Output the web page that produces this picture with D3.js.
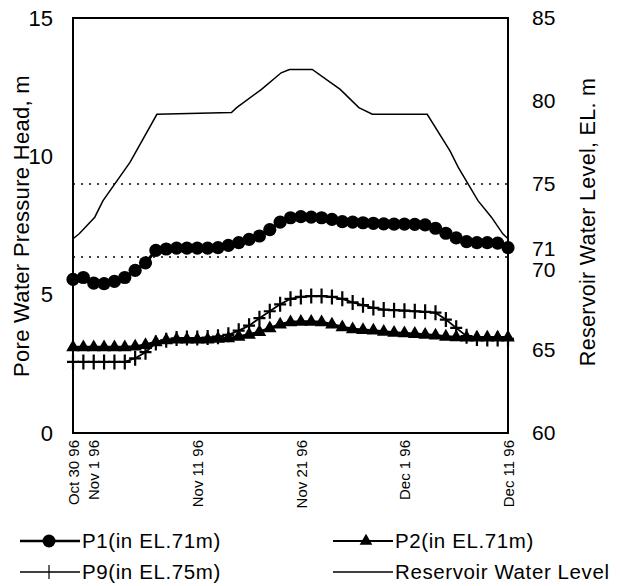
<!DOCTYPE html>
<html>
<head>
<meta charset="utf-8">
<script src="https://cdn.jsdelivr.net/npm/d3@7"></script>
<style>
  body { margin: 0; background: #fff; }
  svg { display: block; }
  text { font-family: "Liberation Sans", Arial, sans-serif; fill: #000; }
</style>
</head>
<body>
<svg id="chart"></svg>
<script>
// Readings, one per day from Oct 30 1996 (left axis, m)
const startDate = Date.UTC(1996, 9, 30);
const p1 = [5.55, 5.62, 5.42, 5.40, 5.48, 5.62, 5.88, 6.15, 6.60, 6.65, 6.68, 6.68, 6.68, 6.68, 6.70,
            6.78, 6.88, 7.00, 7.12, 7.35, 7.62, 7.78, 7.82, 7.80, 7.78, 7.72, 7.64, 7.62, 7.60, 7.58,
            7.56, 7.55, 7.55, 7.54, 7.52, 7.40, 7.22, 7.05, 6.92, 6.88, 6.88, 6.86, 6.70];
const p2 = [3.10, 3.10, 3.10, 3.10, 3.10, 3.10, 3.12, 3.18, 3.28, 3.35, 3.38, 3.38, 3.38, 3.38, 3.40,
            3.42, 3.48, 3.55, 3.65, 3.78, 3.92, 4.00, 4.02, 4.02, 4.00, 3.92, 3.82, 3.75, 3.72, 3.70,
            3.66, 3.62, 3.60, 3.58, 3.55, 3.52, 3.48, 3.46, 3.45, 3.45, 3.45, 3.45, 3.45];
const p9 = [2.57, 2.57, 2.57, 2.57, 2.57, 2.57, 2.70, 2.92, 3.25, 3.35, 3.42, 3.43, 3.43, 3.45, 3.48,
            3.55, 3.70, 3.88, 4.15, 4.40, 4.65, 4.85, 4.92, 4.95, 4.95, 4.92, 4.85, 4.72, 4.62, 4.52,
            4.46, 4.44, 4.42, 4.40, 4.38, 4.35, 4.10, 3.80, 3.50, 3.42, 3.40, 3.40, 3.40];

// Reservoir water level (right axis, EL. m), at day offsets from Oct 30
const resDay   = [0, 0.6, 2.1, 2.9, 5.5, 8.1, 15.3, 15.8, 18.2, 20.1, 20.9, 23.1, 25.8, 27.6, 28.9, 34.2, 36.4, 37.2, 39.1, 40.4, 41.5, 42];
const resLevel = [71.7, 72.0, 73.0, 74.0, 76.3, 79.2, 79.3, 79.6, 80.7, 81.7, 81.9, 81.9, 80.7, 79.6, 79.2, 79.2, 77.0, 76.0, 74.0, 73.0, 72.0, 71.7];

// Dotted reference levels (right axis)
const refLevels = [75, 70.6];

// Axes
const leftTicks = [0, 5, 10, 15];
const rightTicks = [60, 65, 70, 71, 75, 80, 85];
const tickDays = [0, 2, 12, 22, 32, 42];
const tickLabels = ["Oct 30 96", "Nov 1 96", "Nov 11 96", "Nov 21 96", "Dec 1 96", "Dec 11 96"];

const seriesNames = ["P1(in EL.71m)", "P2(in EL.71m)", "P9(in EL.75m)", "Reservoir Water Level"];

const width = 621, height = 586;
const margin = { left: 73, right: 113, top: 18, bottom: 153 };
const DAY = 86400000;
const dayToDate = d => new Date(startDate + d * DAY);

const svg = d3.select("#chart").attr("width", width).attr("height", height);

const x = d3.scaleUtc()
  .domain([dayToDate(0), dayToDate(42)])
  .range([margin.left, width - margin.right]);
const yL = d3.scaleLinear().domain([0, 15]).range([height - margin.bottom, margin.top]);
const yR = d3.scaleLinear().domain([60, 85]).range([height - margin.bottom, margin.top]);

const x0 = margin.left, x1 = width - margin.right;
const yTop = margin.top, yBot = height - margin.bottom;

// dotted reference lines
svg.selectAll(".ref").data(refLevels).join("line")
  .attr("x1", x0).attr("x2", x1)
  .attr("y1", d => yR(d)).attr("y2", d => yR(d))
  .attr("stroke", "#000").attr("stroke-width", 1.6)
  .attr("stroke-dasharray", "2,6");

// reservoir line
const resLine = d3.line().x((d, i) => x(dayToDate(resDay[i]))).y(d => yR(d));
svg.append("path").datum(resLevel)
  .attr("d", resLine).attr("fill", "none")
  .attr("stroke", "#000").attr("stroke-width", 1.5);

const line = d3.line().x((d, i) => x(dayToDate(i))).y(d => yL(d));

// P9 : plus markers
svg.append("path").datum(p9).attr("d", line)
  .attr("fill", "none").attr("stroke", "#000").attr("stroke-width", 1.8);
svg.append("g").selectAll("path").data(p9).join("path")
  .attr("transform", (d, i) => `translate(${x(dayToDate(i))},${yL(d)})`)
  .attr("d", "M0,-7.5V7.5M-6,0H6")
  .attr("stroke", "#000").attr("stroke-width", 2.2);

// P2 : triangle markers
svg.append("path").datum(p2).attr("d", line)
  .attr("fill", "none").attr("stroke", "#000").attr("stroke-width", 3);
svg.append("g").selectAll("path").data(p2).join("path")
  .attr("transform", (d, i) => `translate(${x(dayToDate(i))},${yL(d)})`)
  .attr("d", d3.symbol(d3.symbolTriangle, 80))
  .attr("fill", "#000");

// P1 : circle markers
svg.append("path").datum(p1).attr("d", line)
  .attr("fill", "none").attr("stroke", "#000").attr("stroke-width", 3);
svg.append("g").selectAll("circle").data(p1).join("circle")
  .attr("cx", (d, i) => x(dayToDate(i))).attr("cy", d => yL(d))
  .attr("r", 6.6).attr("fill", "#000");

// frame
svg.append("rect")
  .attr("x", x0).attr("y", yTop)
  .attr("width", x1 - x0).attr("height", yBot - yTop)
  .attr("fill", "none").attr("stroke", "#000").attr("stroke-width", 2);

// left axis labels
svg.append("g")
  .attr("transform", `translate(${x0 - 20},0)`)
  .call(d3.axisLeft(yL).tickValues(leftTicks).tickSize(0).tickPadding(0))
  .call(g => g.select(".domain").remove())
  .selectAll("text").style("font-size", "22px");

// right axis labels (71 and 70 are nudged apart as in the figure)
svg.append("g")
  .attr("transform", `translate(${x1 + 24},0)`)
  .call(d3.axisRight(yR).tickValues(rightTicks).tickSize(0).tickPadding(0))
  .call(g => g.select(".domain").remove())
  .selectAll("text").style("font-size", "21px")
  .attr("y", d => d === 71 ? -2 : d === 70 ? 3 : 0);

// bottom axis labels (rotated)
svg.append("g")
  .attr("transform", `translate(0,${yBot + 7})`)
  .call(d3.axisBottom(x).tickValues(tickDays.map(dayToDate)).tickSize(0).tickPadding(0)
    .tickFormat((d, i) => tickLabels[i]))
  .call(g => g.select(".domain").remove())
  .selectAll("text")
  .style("font-size", "15px")
  .attr("text-anchor", "end")
  .attr("dy", "0.35em")
  .attr("transform", "rotate(-90)")
  .attr("x", 0).attr("y", 0);

// axis titles
svg.append("text")
  .attr("transform", `translate(29,226) rotate(-90)`)
  .attr("text-anchor", "middle")
  .style("font-size", "22px")
  .style("letter-spacing", "0.3px")
  .text("Pore Water Pressure Head, m");
svg.append("text")
  .attr("transform", `translate(595,222) rotate(-90)`)
  .attr("text-anchor", "middle")
  .style("font-size", "21.5px")
  .style("letter-spacing", "0.3px")
  .text("Reservoir Water Level, EL. m");

// legend
const legend = [
  { name: seriesNames[0], lx: 20, ly: 541, mark: "circle", w: 2.5 },
  { name: seriesNames[1], lx: 333, ly: 541, mark: "tri", w: 2 },
  { name: seriesNames[2], lx: 20, ly: 572, mark: "plus", w: 1.5 },
  { name: seriesNames[3], lx: 333, ly: 572, mark: "none", w: 1.5 }
];
const lg = svg.append("g").selectAll("g").data(legend).join("g")
  .attr("transform", d => `translate(${d.lx},${d.ly})`);
lg.append("line").attr("x1", 0).attr("x2", 60).attr("y1", 0).attr("y2", 0)
  .attr("stroke", "#000").attr("stroke-width", d => d.w);
lg.filter(d => d.mark === "circle").append("circle")
  .attr("cx", 29).attr("r", 6.5).attr("fill", "#000");
lg.filter(d => d.mark === "tri").append("path")
  .attr("transform", "translate(33,0)")
  .attr("d", d3.symbol(d3.symbolTriangle, 70)).attr("fill", "#000");
lg.filter(d => d.mark === "plus").append("path")
  .attr("d", "M29,-7V7").attr("stroke", "#000").attr("stroke-width", 1.2);
lg.append("text")
  .attr("x", 62).attr("dy", "0.35em")
  .style("font-size", "20.5px")
  .style("letter-spacing", "0.6px")
  .text(d => d.name);
</script>
</body>
</html>
